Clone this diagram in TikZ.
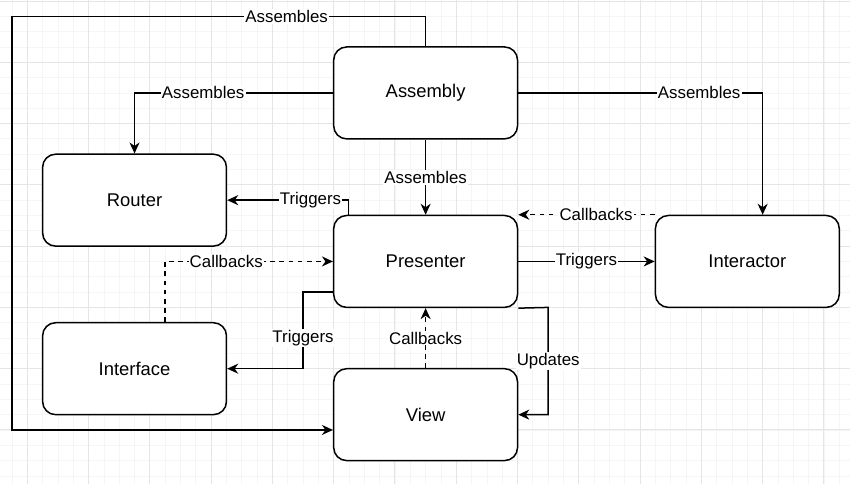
\documentclass[tikz,border=0pt]{standalone}
\usepackage{fontspec}
\setmainfont{Liberation Sans}
\usetikzlibrary{arrows.meta,calc}
\tikzset{
  box/.style={draw=black, line width=1.5pt, rounded corners=13pt, fill=white,
    minimum width=183.84pt, minimum height=91.92pt, inner sep=0pt,
    font=\fontsize{18.4}{22}\selectfont},
  conn/.style={draw=black, line width=1.5pt, -{Stealth[length=11pt,width=10pt,inset=3.5pt]}},
  dconn/.style={conn, dash pattern=on 4.6pt off 4.6pt},
  lab/.style={fill=white, inner sep=1.2pt, text=black, font=\fontsize{16.85}{20}\selectfont},
  gminor/.style={draw=black!4, line width=0.8pt},
  gmajor/.style={draw=black!10, line width=1pt}
}
\begin{document}
\begin{tikzpicture}[x=1.532pt, y=-1.532pt]
\useasboundingbox (-17.82,-0.653) rectangle (537.01,315.28);
\fill[white] (-17.82,-0.653) rectangle (537.01,315.28);
% grid
\foreach \i in {-10,0,...,530} {\draw[gminor] (\i,-0.653) -- (\i,315.28);}
\foreach \j in {0,10,...,310} {\draw[gminor] (-17.82,\j) -- (537.01,\j);}
\foreach \i in {0,40,...,520} {\draw[gmajor] (\i,-0.653) -- (\i,315.28);}
\foreach \j in {0,40,...,280} {\draw[gmajor] (-17.82,\j) -- (537.01,\j);}
% nodes
\node[box] (A) at (260,60) {Assembly};
\node[box] (R) at (70,130) {Router};
\node[box] (P) at (260,170) {Presenter};
\node[box] (I) at (470,170) {Interactor};
\node[box] (F) at (70,240) {Interface};
\node[box] (V) at (260,270) {View};
% helper coordinates
\coordinate (c1) at (-10,10);
\coordinate (vin) at ($(V.west)+(0,10)$);
\coordinate (itop) at ($(I.north)+(10,0)$);
\coordinate (ptop) at ($(P.north west)+(10,0)$);
\coordinate (ftop) at ($(F.north)+(20,0)$);
\coordinate (pl) at ($(P.west)+(0,20)$);
\coordinate (t1) at (180,190);
\coordinate (t2) at (180,240);
\coordinate (u1) at (340,200);
\coordinate (u2) at (340,270);
% connectors
\draw[conn] (A.north) |- node[lab, pos=0.668] {Assembles} (c1) |- (vin);
\draw[conn] (A.west) -| node[lab, pos=0.327] {Assembles} (R.north);
\draw[conn] (A.east) -| node[lab, pos=0.37] {Assembles} (itop);
\draw[conn] (A.south) -- node[lab] {Assembles} (P.north);
\draw[conn] (ptop) |- node[lab, pos=0.656] {Triggers} (R.east);
\draw[dconn] (I.north west) -- node[lab, pos=0.43] {Callbacks} (P.north east);
\draw[conn] (P.east) -- node[lab] {Triggers} (I.west);
\draw[dconn] (ftop) |- node[lab, pos=0.682] {Callbacks} (P.west);
\draw[conn] (pl) -- (t1) -- node[lab, pos=0.6] {Triggers} (t2) -- (F.east);
\draw[dconn] (V.north) -- node[lab] {Callbacks} (P.south);
\draw[conn] (P.south east) -- (u1) -- node[lab] {Updates} (u2) -- (V.east);
\end{tikzpicture}
\end{document}
